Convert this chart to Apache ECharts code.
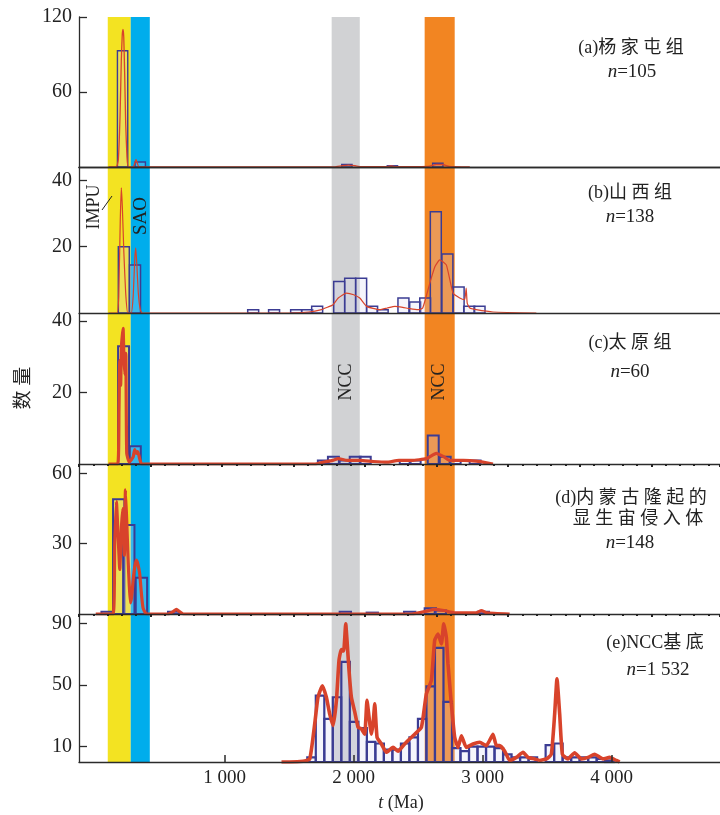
<!DOCTYPE html>
<html><head><meta charset="utf-8">
<script src="https://cdn.jsdelivr.net/npm/echarts@6/dist/echarts.min.js"></script>
<style>html,body{margin:0;padding:0;background:#fff}#c{width:720px;height:815px}</style>
</head><body><div id="c"></div>
<script>
// ---------- data ----------
const xTickValues = [1000, 2000, 3000, 4000];
const yTicksA = [60, 120], yTicksB = [20, 40], yTicksC = [20, 40], yTicksD = [30, 60], yTicksE = [10, 50, 90];
const yMaxes = [120, 44, 42, 64, 96];

// bands (Ma)
const bandYellow = [93, 271];
const bandBlue = [271, 419];
const bandGray = [1829, 2047];
const bandOrange = [2550, 2783];

// histograms: left edges (Ma), counts, bin width (Ma)
const aBinLeft = [168, 305, 1907, 2260, 2612];
const aCounts  = [93, 4, 2, 1, 3];
const aBinWidth = 80;

const bBinLeft = [175, 262, 1178, 1340, 1511, 1597, 1674, 1845, 1930, 2015, 2100, 2182, 2343, 2434, 2512, 2594, 2684, 2771, 2853, 2933];
const bCounts  = [20, 14.5, 1, 1, 1, 1, 2, 9.5, 10.5, 10.5, 2, 1, 4.5, 3.3, 4.5, 30.5, 17.8, 7.8, 2, 2];
const bBinWidth = 85;

const cBinLeft = [173, 264, 1722, 1800, 1891, 1969, 2047, 2357, 2434, 2574, 2667, 2744, 2899];
const cCounts  = [33, 5, 1, 2, 1, 2, 2, 1, 1, 8, 2, 1, 1];
const cBinWidth = 85;

const dBinLeft = [44, 134, 212, 310, 560, 1891, 2100, 2390, 2550, 2628, 2961];
const dCounts  = [1, 49, 38, 15.5, 1, 1, 0.6, 1, 2.5, 1.5, 1];
const dBinWidth = 88;

const eBinLeft = [1640, 1706, 1772, 1838, 1904, 1970, 2036, 2102, 2168, 2234, 2300, 2366, 2432, 2498, 2564, 2630, 2696, 2762, 2828, 2894, 2960, 3026, 3092, 3158, 3224, 3290, 3356, 3488, 3554, 3620, 3686, 3752, 3818, 3884, 3950];
const eCounts  = [3, 43, 28, 42, 65, 26, 22, 13, 12, 8, 8, 12, 16, 28, 49, 74, 39, 9, 7, 10, 10, 10, 9, 5, 3, 3, 3, 11, 12, 3, 3, 3, 3, 2, 1];
const eBinWidth = 66;

// probability density curves [age Ma, value]
const aCurve = [[100,0],[160,0],[175,6],[188,40],[198,85],[205,105],[211,110],[217,104],[224,75],[232,35],[242,8],[252,0],[290,0],[302,3],[312,6],[322,3],[335,0],[1850,0],[1910,1],[1960,1.5],[2010,1],[2060,0.3],[2250,0.3],[2290,0.8],[2330,0.3],[2580,0.5],[2640,2],[2690,2],[2740,0.5],[2900,0]];
const bCurve = [[100,0],[165,0],[178,5],[190,28],[198,37.7],[206,32],[218,18],[232,6],[248,0],[275,0],[290,5],[302,16],[310,19.6],[318,15],[330,6],[345,1],[360,0],[1500,0],[1650,0.3],[1750,1],[1800,1.8],[1837,2.4],[1880,4.5],[1943,6],[2000,5.5],[2047,4.5],[2100,2],[2202,1],[2260,1.5],[2320,2],[2380,1.7],[2434,1.3],[2500,1],[2535,1.5],[2590,9],[2630,14],[2667,16],[2718,14.5],[2770,6],[2822,4.5],[2860,4],[2872,7.5],[2880,3],[2900,1.5],[2950,1],[3080,0.3],[3416,0]];
const cCurve = [[100,0],[170,0],[180,15],[186,29],[193,22],[199,33],[206,36],[212,38],[218,30],[226,25],[233,31],[240,3],[260,0.5],[290,2],[302,4],[314,3],[326,3.5],[340,1.5],[356,0],[1700,0],[1760,0.5],[1837,1],[1880,1.5],[1950,1],[2050,1],[2150,0.7],[2253,0.5],[2350,1],[2450,1],[2563,1.5],[2641,3],[2700,2],[2744,1],[2850,1],[2950,0.8],[3080,0]];
const dCurve = [[0,0],[134,0],[147,30],[160,48],[172,35],[186,19],[199,37],[210,45],[222,25],[230,53],[240,40],[250,24],[260,12],[269,4.7],[280,8],[289,14],[302,20],[315,23],[328,21],[341,17],[355,8],[367,2.5],[393,0],[560,0],[600,1],[625,2],[650,1],[680,0],[2450,0],[2550,1],[2620,2],[2700,1.5],[2780,0.5],[2950,0.5],[2990,1.5],[3030,0.5],[3209,0]];
const eCurve = [[1440,0],[1504,0],[1607,0.5],[1659,2],[1698,25],[1723,42],[1757,49.5],[1788,42],[1814,31],[1840,23.6],[1866,40],[1886,66],[1904,73],[1922,72],[1938,89.6],[1948,79],[1964,59],[1982,42],[2008,32.5],[2034,22.5],[2059,21.6],[2085,18],[2103,40],[2119,29],[2137,18],[2150,25],[2163,37.7],[2181,16],[2215,11.7],[2253,6.3],[2305,9.5],[2344,7],[2383,10.6],[2421,13.9],[2473,18],[2525,22.5],[2563,44],[2602,53],[2628,79],[2654,83],[2680,76.6],[2698,89.6],[2718,81],[2731,63.6],[2757,37.7],[2783,16],[2809,9.5],[2835,17],[2873,9.5],[2925,11.7],[2977,12.8],[3028,10.6],[3080,18],[3106,10.6],[3132,10.6],[3171,7],[3209,1],[3261,3],[3313,6.3],[3351,3],[3403,2],[3442,1],[3494,2],[3532,5],[3558,31],[3576,54],[3597,31],[3618,5],[3661,2],[3713,6],[3765,2],[3817,3],[3868,5],[3933,2],[3984,3],[4036,1],[4062,0]];

const panelTitles = ['(a)杨 家 屯 组', '(b)山 西 组', '(c)太 原 组', '(d)内 蒙 古 隆 起 的', '(e)NCC基 底'];
const panelN = ['105', '138', '60', '148', '1 532'];

// ---------- layout ----------
const X_MIN = -130, X_MAX = 4840;
const gridTops = [17, 167, 314, 464, 614];
const gridHeights = [150, 146, 150, 150, 148];
const LEFT = 79;
const SERIF = '"Liberation Serif","Times New Roman",serif';
const CJK = '"Liberation Serif","Noto Sans CJK SC",serif';
const AX = '#2b2b2b';
const NAVY = '#3b3c93';
const RED = '#d8432b';

const yTicks = [yTicksA, yTicksB, yTicksC, yTicksD, yTicksE];
const bins = [
  [aBinLeft, aCounts, aBinWidth], [bBinLeft, bCounts, bBinWidth], [cBinLeft, cCounts, cBinWidth],
  [dBinLeft, dCounts, dBinWidth], [eBinLeft, eCounts, eBinWidth]
];
const curves = [aCurve, bCurve, cCurve, dCurve, eCurve];
const barLW = [1.4, 1.5, 2, 2, 2.2];
const curveLW = [1.3, 1.2, 3.2, 3.2, 3.6];

const grid = gridTops.map((t, i) => ({left: LEFT, right: 0, top: t, height: gridHeights[i], containLabel: false}));

const fmt = v => String(v).replace(/\B(?=(\d{3})+(?!\d))/g, ' ');

const xAxis = gridTops.map((t, i) => ({
  type: 'value', gridIndex: i, min: X_MIN, max: X_MAX, z: 10,
  axisLine: {show: true, onZero: false, lineStyle: {color: AX, width: 1.3}},
  axisTick: i === 4 ? {show: true, inside: true, length: 7, customValues: xTickValues, lineStyle: {color: AX, width: 1.5}} : {show: false},
  axisLabel: i === 4 ? {show: true, customValues: xTickValues, formatter: fmt, margin: 7, color: '#222', fontSize: 19, fontFamily: SERIF} : {show: false},
  splitLine: {show: false}
}));
// top border of panel (a)
xAxis.push({type: 'value', gridIndex: 0, position: 'top', min: X_MIN, max: X_MAX, z: 10,
  axisLine: {show: true, lineStyle: {color: AX, width: 1.3}}, axisTick: {show: false}, axisLabel: {show: false}, splitLine: {show: false}});
// small baseline tick dots in panels (c) and (d)
[2, 3].forEach(g => xAxis.push({type: 'value', gridIndex: g, min: 0, max: 44.8, interval: 5, z: 11,
  axisLine: {show: false}, axisLabel: {show: false}, splitLine: {show: false},
  axisTick: {show: true, inside: true, length: 3, lineStyle: {color: '#222', width: 2}},
  minorTick: {show: true, splitNumber: 5, length: 2, lineStyle: {color: '#222', width: 2}},
  minorSplitLine: {show: false}}));

const yAxis = gridTops.map((t, i) => ({
  type: 'value', gridIndex: i, min: 0, max: yMaxes[i], z: 10,
  axisLine: {show: true, onZero: false, lineStyle: {color: AX, width: 1.3}},
  axisTick: {show: true, inside: true, length: 8, customValues: yTicks[i], lineStyle: {color: AX, width: 1.3}},
  axisLabel: {show: true, customValues: yTicks[i], margin: 7, color: '#222', fontSize: 20, fontFamily: SERIF},
  splitLine: {show: false}
}));

const series = [];
gridTops.forEach((t, i) => {
  series.push({
    type: 'line', xAxisIndex: i, yAxisIndex: i, data: [[X_MIN, 0]], showSymbol: false, silent: true, z: 1,
    lineStyle: {opacity: 0},
    markArea: {silent: true, label: {show: false}, data: [
      [{xAxis: bandYellow[0], itemStyle: {color: '#f3e322', opacity: 1}}, {xAxis: bandYellow[1]}],
      [{xAxis: bandBlue[0], itemStyle: {color: '#00adec', opacity: 1}}, {xAxis: bandBlue[1]}],
      [{xAxis: bandGray[0], itemStyle: {color: '#d1d2d4', opacity: 1}}, {xAxis: bandGray[1]}],
      [{xAxis: bandOrange[0], itemStyle: {color: '#f28522', opacity: 1}}, {xAxis: bandOrange[1]}]
    ]}
  });
  const [lefts, counts, w] = bins[i];
  const lw = barLW[i];
  series.push({
    type: 'custom', xAxisIndex: i, yAxisIndex: i, z: 3, silent: true,
    data: lefts.map((l, k) => [l, counts[k], l + w]),
    renderItem: (params, api) => {
      const p0 = api.coord([api.value(0), api.value(1)]);
      const p1 = api.coord([api.value(2), 0]);
      return {type: 'rect', shape: {x: p0[0], y: p0[1], width: p1[0] - p0[0], height: p1[1] - p0[1]},
        style: {fill: 'rgba(215,215,245,0.25)', stroke: NAVY, lineWidth: lw}};
    }
  });
  series.push({
    type: 'line', xAxisIndex: i, yAxisIndex: i, z: 4, silent: true, data: curves[i],
    showSymbol: false, smooth: 0.15, lineStyle: {color: RED, width: curveLW[i]}
  });
});

const graphic = [];
const txt = (x, y, text, size, extra) => Object.assign({type: 'text', x, y, silent: true,
  style: {text, fill: '#222', font: size + 'px ' + CJK, textAlign: 'center', textVerticalAlign: 'middle'}}, extra || {});
const titleX = [631, 630, 630, 631, 655];
const titleY = [48, 193, 343, 498, 643];
const nX = [632, 630, 630, 630, 658];
const nY = [72, 217, 372, 543, 670];
panelTitles.forEach((s, i) => graphic.push(txt(titleX[i], titleY[i], s, 18)));
graphic.push(txt(638, 519, '显 生 宙 侵 入 体', 18));
panelN.forEach((s, i) => graphic.push({type: 'text', x: nX[i], y: nY[i], silent: true,
  style: {text: '{i|n}=' + s, fill: '#222', font: '19px ' + SERIF, textAlign: 'center', textVerticalAlign: 'middle',
    rich: {i: {fontStyle: 'italic', font: 'italic 19px ' + SERIF, fill: '#222'}}}}));
// rotated labels
const rot = (x, y, text, size) => ({type: 'text', x, y, rotation: Math.PI / 2, silent: true, z: 20,
  style: {text, fill: '#222', font: size + 'px ' + CJK, textAlign: 'center', textVerticalAlign: 'middle'}});
graphic.push(rot(24, 388, '数 量', 19));
graphic.push(rot(94, 207, 'IMPU', 18));
graphic.push(rot(141, 216, 'SAO', 19));
graphic.push(rot(346, 382, 'NCC', 18));
graphic.push(rot(439, 382, 'NCC', 18));
graphic.push({type: 'line', silent: true, z: 20, shape: {x1: 102, y1: 210, x2: 112, y2: 196}, style: {stroke: '#222', lineWidth: 1}});
// x axis name
graphic.push({type: 'text', x: 401, y: 803, silent: true,
  style: {text: '{i|t} (Ma)', fill: '#222', font: '18px ' + SERIF, textAlign: 'center', textVerticalAlign: 'middle',
    rich: {i: {font: 'italic 18px ' + SERIF, fill: '#222'}}}});

const chart = echarts.init(document.getElementById('c'), null, {renderer: 'canvas'});
chart.setOption({animation: false, backgroundColor: '#fff', grid, xAxis, yAxis, series, graphic});
</script></body></html>
